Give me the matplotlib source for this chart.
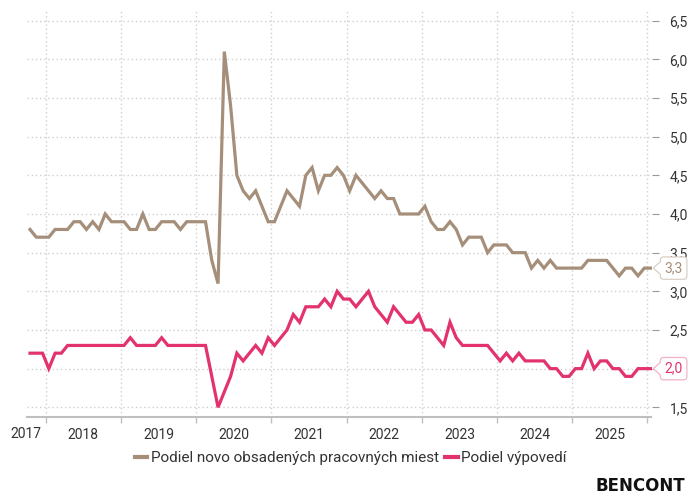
import numpy as np
import matplotlib
matplotlib.use("Agg")
import matplotlib.pyplot as plt
from matplotlib.path import Path
from matplotlib.lines import Line2D
from matplotlib.ticker import FuncFormatter
import matplotlib.transforms as mtransforms

# mesačné údaje od 10/2017
start_year, start_month = 2017, 10
years = [2017, 2018, 2019, 2020, 2021, 2022, 2023, 2024, 2025]
year_labels = [str(y) for y in years]
series_names = ["Podiel novo obsadených pracovných miest", "Podiel výpovedí"]

hires = [3.8, 3.7, 3.7, 3.7, 3.8, 3.8, 3.8, 3.9, 3.9, 3.8,
         3.9, 3.8, 4.0, 3.9, 3.9, 3.9, 3.8, 3.8, 4.0, 3.8,
         3.8, 3.9, 3.9, 3.9, 3.8, 3.9, 3.9, 3.9, 3.9, 3.4,
         3.1, 6.1, 5.4, 4.5, 4.3, 4.2, 4.3, 4.1, 3.9, 3.9,
         4.1, 4.3, 4.2, 4.1, 4.5, 4.6, 4.3, 4.5, 4.5, 4.6,
         4.5, 4.3, 4.5, 4.4, 4.3, 4.2, 4.3, 4.2, 4.2, 4.0,
         4.0, 4.0, 4.0, 4.1, 3.9, 3.8, 3.8, 3.9, 3.8, 3.6,
         3.7, 3.7, 3.7, 3.5, 3.6, 3.6, 3.6, 3.5, 3.5, 3.5,
         3.3, 3.4, 3.3, 3.4, 3.3, 3.3, 3.3, 3.3, 3.3, 3.4,
         3.4, 3.4, 3.4, 3.3, 3.2, 3.3, 3.3, 3.2, 3.3, 3.3]

quits = [2.2, 2.2, 2.2, 2.0, 2.2, 2.2, 2.3, 2.3, 2.3, 2.3,
         2.3, 2.3, 2.3, 2.3, 2.3, 2.3, 2.4, 2.3, 2.3, 2.3,
         2.3, 2.4, 2.3, 2.3, 2.3, 2.3, 2.3, 2.3, 2.3, 1.9,
         1.5, 1.7, 1.9, 2.2, 2.1, 2.2, 2.3, 2.2, 2.4, 2.3,
         2.4, 2.5, 2.7, 2.6, 2.8, 2.8, 2.8, 2.9, 2.8, 3.0,
         2.9, 2.9, 2.8, 2.9, 3.0, 2.8, 2.7, 2.6, 2.8, 2.7,
         2.6, 2.6, 2.7, 2.5, 2.5, 2.4, 2.3, 2.6, 2.4, 2.3,
         2.3, 2.3, 2.3, 2.3, 2.2, 2.1, 2.2, 2.1, 2.2, 2.1,
         2.1, 2.1, 2.1, 2.0, 2.0, 1.9, 1.9, 2.0, 2.0, 2.2,
         2.0, 2.1, 2.1, 2.0, 2.0, 1.9, 1.9, 2.0, 2.0, 2.0]

y_ticks = [1.5, 2.0, 2.5, 3.0, 3.5, 4.0, 4.5, 5.0, 5.5, 6.0, 6.5]

brown = "#a58f7a"
pink = "#e2336f"
grid_c = "#cfcfcf"
text_c = "#333333"

plt.rcParams["font.family"] = ["Roboto", "DejaVu Sans"]


def jan(y):
    # index januára daného roka
    return (y - start_year) * 12 - (start_month - 1)


def callout(x0, y0, width, height, mutation_size):
    # zaoblený box so šípkou vľavo
    pad = 0.3 * mutation_size
    x0, y0 = x0 - pad, y0 - pad
    x1, y1 = x0 + width + 2 * pad, y0 + height + 2 * pad
    r = 0.25 * mutation_size
    ym = (y0 + y1) / 2
    a = 0.28 * (y1 - y0)
    tip = 0.5 * mutation_size
    verts = [(x0 + r, y0), (x1 - r, y0), (x1, y0), (x1, y0 + r),
             (x1, y1 - r), (x1, y1), (x1 - r, y1),
             (x0 + r, y1), (x0, y1), (x0, y1 - r),
             (x0, ym + a), (x0 - tip, ym), (x0, ym - a),
             (x0, y0 + r), (x0, y0), (x0 + r, y0), (x0 + r, y0)]
    codes = [Path.MOVETO, Path.LINETO, Path.CURVE3, Path.CURVE3,
             Path.LINETO, Path.CURVE3, Path.CURVE3,
             Path.LINETO, Path.CURVE3, Path.CURVE3,
             Path.LINETO, Path.LINETO, Path.LINETO,
             Path.LINETO, Path.CURVE3, Path.CURVE3, Path.CLOSEPOLY]
    return Path(verts, codes)


x = np.arange(len(hires))

fig = plt.figure(figsize=(6.88, 4.96), dpi=100)
ax = fig.add_axes([27 / 688, 79 / 496, 624.5 / 688, 407 / 496])

ax.plot(x, hires, color=brown, lw=2.3, solid_joinstyle="miter", zorder=4)
ax.plot(x, quits, color=pink, lw=2.3, solid_joinstyle="miter", zorder=4)

ax.set_xlim(-0.48, len(x) - 1 + 0.15)
ax.set_ylim(1.3746, 6.638)

# os x: hranice rokov + popisy v strede roka
bounds = [jan(y) - 0.5 for y in years[1:] + [years[-1] + 1]]
mids = [jan(y) + 5.5 for y in years[1:]]
ax.set_xticks(bounds)
ax.set_xticklabels([])
ax.set_xticks(mids, minor=True)
ax.set_xticklabels(year_labels[1:], minor=True)
ax.tick_params(axis="x", which="major", length=4, width=1, color="#bfbfbf", direction="out")
ax.tick_params(axis="x", which="minor", length=0, pad=8, labelsize=10, labelcolor=text_c)
trans = mtransforms.blended_transform_factory(ax.transData, ax.transAxes)
ax.text(-0.6, -0.0245, year_labels[0], transform=trans, ha="center", va="top",
        fontsize=10, color=text_c, clip_on=False)

# os y vpravo
ax.yaxis.tick_right()
ax.set_yticks(y_ticks)
ax.yaxis.set_major_formatter(FuncFormatter(lambda v, p: f"{v:.1f}".replace(".", ",")))
ax.tick_params(axis="y", length=5, width=0.8, color="#999999", pad=8,
               labelsize=10, labelcolor=text_c)
last_vals = [round(hires[-1], 1), round(quits[-1], 1)]
for t, lab in zip(y_ticks, ax.get_yticklabels()):
    lab.set_horizontalalignment("left")
    if round(t, 1) in last_vals:
        lab.set_visible(False)  # prekryté boxom s poslednou hodnotou

ax.grid(True, axis="both", which="major", color=grid_c, lw=1, linestyle=(0, (1, 2)))
ax.set_axisbelow(True)
for s in ["top", "right", "left"]:
    ax.spines[s].set_visible(False)
ax.spines["bottom"].set_color("#bfbfbf")
ax.spines["bottom"].set_linewidth(1.5)

# posledné hodnoty
for vals, c, ec in [(hires, brown, "#d9cfc5"), (quits, pink, "#f0b3c8")]:
    ax.annotate(f"{vals[-1]:.1f}".replace(".", ","), xy=(x[-1], vals[-1]),
                xytext=(10, 0), textcoords="offset points", ha="left", va="center",
                fontsize=10, color=c, annotation_clip=False, zorder=6,
                bbox=dict(boxstyle=callout, fc="white", ec=ec, lw=0.9))

handles = [Line2D([0], [0], color=brown, lw=3), Line2D([0], [0], color=pink, lw=3)]
fig.legend(handles, series_names, loc="center", bbox_to_anchor=(351 / 688, 1 - 458 / 496),
           ncol=2, frameon=False, handlelength=0.8, handletextpad=0.25,
           columnspacing=0.4, fontsize=11, labelcolor=text_c)

fig.text(685 / 688, 1 - 486 / 496, "BENCONT", ha="right", va="center",
         fontsize=12, fontweight="bold", color="#111111", family="DejaVu Sans")

fig.savefig("out.png", dpi=100)
